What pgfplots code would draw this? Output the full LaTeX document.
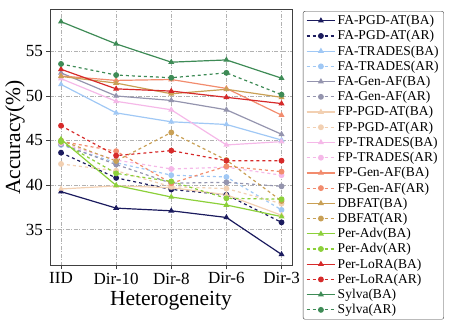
\documentclass[border=0pt]{standalone}
\usepackage{fontspec}
\setmainfont{Liberation Serif}
\usepackage{pgfplots}
\pgfplotsset{compat=1.18}
\definecolor{cNavy}{HTML}{1B1B5E}
\definecolor{cLBlue}{HTML}{A0C8F5}
\definecolor{cGray}{HTML}{9494AE}
\definecolor{cBeige}{HTML}{F2D0B2}
\definecolor{cPink}{HTML}{F5B8E8}
\definecolor{cSalmon}{HTML}{F28C6E}
\definecolor{cGold}{HTML}{C9A055}
\definecolor{cLime}{HTML}{8CD03A}
\definecolor{cRed}{HTML}{D62A2A}
\definecolor{cGreen}{HTML}{3E8B56}
\begin{document}
\begin{tikzpicture}
\useasboundingbox (-50pt,-59.3pt) rectangle (407pt,265.7pt);
\begin{axis}[
 scale only axis, width=242pt, height=256.4pt,
 xmin=-0.2, xmax=4.19, ymin=30.93, ymax=59.74,
 xtick={0,1,2,3,4}, xticklabels={IID,Dir-10,Dir-8,Dir-6,Dir-3},
 ytick={35,40,45,50,55},
 grid=major, grid style={black!30, dash pattern=on 4pt off 1.5pt on 1pt off 1.5pt, line width=0.6pt},
 axis line style={black!75, line width=0.8pt},
 tick align=outside, tick pos=left, major tick length=3.5pt,
 tick style={black!75, line width=0.8pt},
 ticklabel style={font=\fontsize{17}{20}\selectfont},
 /pgf/number format/assume math mode=true,
 xlabel={Heterogeneity}, ylabel={Accuracy(\%)},
 label style={font=\fontsize{21.5}{24}\selectfont},
 ylabel style={at={(axis description cs:-0.145,0.5)}, anchor=center},
 legend style={at={(1.045,0.993)}, anchor=north west, font=\fontsize{13.5}{15}\selectfont, draw=black!75, rounded corners=2pt, row sep=0.35pt, cells={anchor=west}},
 legend image code/.code={\draw[mark repeat=2,mark phase=2] plot coordinates {(0cm,0cm) (0.5cm,0cm) (1cm,0cm)};},
 every axis plot/.append style={line width=1.2pt, mark size=2.3pt},
]
\addplot[cNavy, mark=triangle*] coordinates {(0,39.25) (1,37.4) (2,37.1) (3,36.35) (4,32.2)};
\addlegendentry{FA-PGD-AT(BA)}
\addplot[cNavy, dashed, mark=*, mark options={solid}] coordinates {(0,43.63) (1,40.8) (2,39.5) (3,38.9) (4,35.8)};
\addlegendentry{FA-PGD-AT(AR)}
\addplot[cLBlue, mark=triangle*] coordinates {(0,51.3) (1,48.1) (2,47.1) (3,46.8) (4,45.05)};
\addlegendentry{FA-TRADES(BA)}
\addplot[cLBlue, dashed, mark=*, mark options={solid}] coordinates {(0,44.5) (1,42.5) (2,41.1) (3,40.9) (4,37.2)};
\addlegendentry{FA-TRADES(AR)}
\addplot[cGray, mark=triangle*] coordinates {(0,52.6) (1,50.0) (2,49.5) (3,48.45) (4,45.7)};
\addlegendentry{FA-Gen-AF(BA)}
\addplot[cGray, dashed, mark=*, mark options={solid}] coordinates {(0,44.6) (1,42.3) (2,40.2) (3,40.3) (4,39.85)};
\addlegendentry{FA-Gen-AF(AR)}
\addplot[cBeige, mark=triangle*] coordinates {(0,39.55) (1,39.9) (2,39.7) (3,38.9) (4,36.6)};
\addlegendentry{FP-PGD-AT(BA)}
\addplot[cBeige, dashed, mark=*, mark options={solid}] coordinates {(0,42.36) (1,41.6) (2,39.8) (3,39.6) (4,37.9)};
\addlegendentry{FP-PGD-AT(AR)}
\addplot[cPink, mark=triangle*] coordinates {(0,51.95) (1,49.4) (2,48.45) (3,44.5) (4,44.87)};
\addlegendentry{FP-TRADES(BA)}
\addplot[cPink, dashed, mark=*, mark options={solid}] coordinates {(0,44.7) (1,42.8) (2,41.8) (3,42.0) (4,41.1)};
\addlegendentry{FP-TRADES(AR)}
\addplot[cSalmon, mark=triangle*] coordinates {(0,52.25) (1,51.75) (2,51.85) (3,50.85) (4,47.85)};
\addlegendentry{FP-Gen-AF(BA)}
\addplot[cSalmon, dashed, mark=*, mark options={solid}] coordinates {(0,44.9) (1,43.8) (2,40.2) (3,42.1) (4,41.5)};
\addlegendentry{FP-Gen-AF(AR)}
\addplot[cGold, mark=triangle*] coordinates {(0,52.2) (1,51.45) (2,50.25) (3,50.75) (4,49.85)};
\addlegendentry{DBFAT(BA)}
\addplot[cGold, dashed, mark=*, mark options={solid}] coordinates {(0,45.0) (1,42.7) (2,45.9) (3,42.8) (4,38.2)};
\addlegendentry{DBFAT(AR)}
\addplot[cLime, mark=triangle*] coordinates {(0,45.13) (1,39.95) (2,38.65) (3,37.75) (4,36.45)};
\addlegendentry{Per-Adv(BA)}
\addplot[cLime, dashed, mark=*, mark options={solid}] coordinates {(0,44.85) (1,41.3) (2,40.4) (3,38.5) (4,38.4)};
\addlegendentry{Per-Adv(AR)}
\addplot[cRed, mark=triangle*] coordinates {(0,53.0) (1,50.8) (2,50.55) (3,49.85) (4,49.15)};
\addlegendentry{Per-LoRA(BA)}
\addplot[cRed, dashed, mark=*, mark options={solid}] coordinates {(0,46.66) (1,43.3) (2,43.86) (3,42.73) (4,42.73)};
\addlegendentry{Per-LoRA(AR)}
\addplot[cGreen, mark=triangle*] coordinates {(0,58.35) (1,55.85) (2,53.8) (3,54.05) (4,52.0)};
\addlegendentry{Sylva(BA)}
\addplot[cGreen, dashed, mark=*, mark options={solid}] coordinates {(0,53.6) (1,52.35) (2,52.05) (3,52.6) (4,50.15)};
\addlegendentry{Sylva(AR)}
\end{axis}
\end{tikzpicture}
\end{document}
